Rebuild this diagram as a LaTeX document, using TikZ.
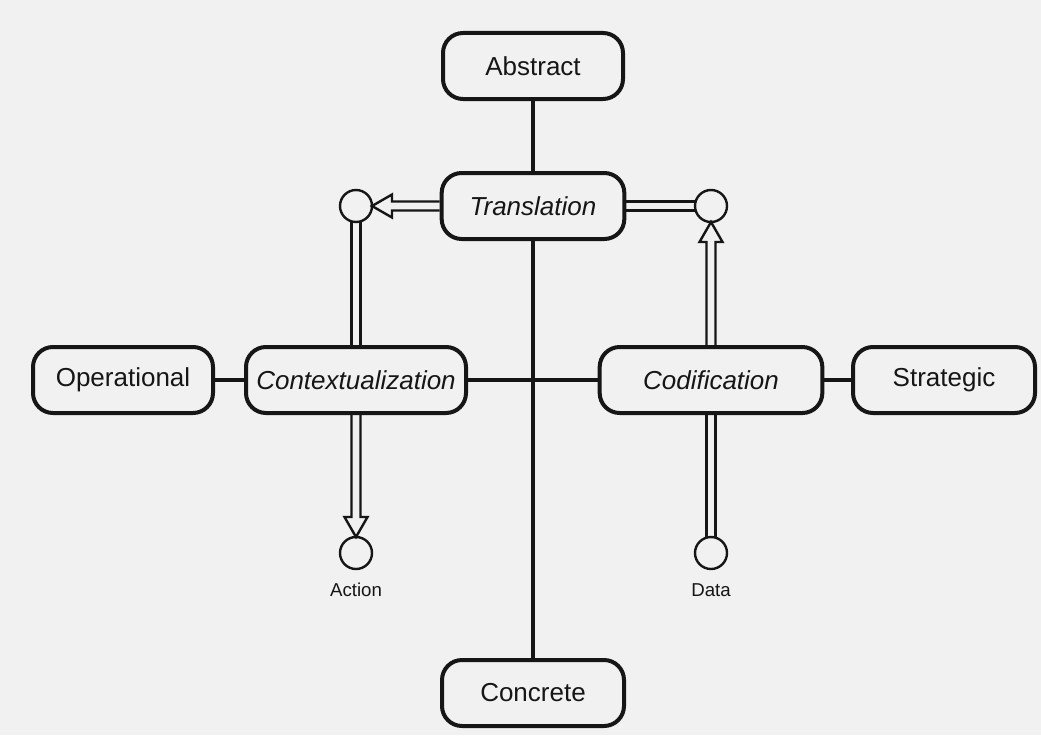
\documentclass[tikz,border=0pt]{standalone}
\usepackage{fontspec}
\setmainfont{Liberation Sans}
\usetikzlibrary{calc}
\definecolor{bg}{HTML}{F1F1F1}
\definecolor{ink}{HTML}{161616}
\begin{document}
\begin{tikzpicture}[x=0.75pt,y=-0.75pt,
  box/.style={draw=ink,line width=3pt,rounded corners=15pt,fill=bg,
    minimum height=49.5pt,inner sep=0pt,text=ink,
    font=\fontsize{19.5}{22}\selectfont},
  ibox/.style={box,font=\fontsize{19.5}{22}\selectfont\itshape},
  circ/.style={draw=ink,circle,line width=1.8pt,minimum size=24pt,inner sep=0pt,outer sep=0pt},
  lbl/.style={text=ink,inner sep=0pt,font=\fontsize{14}{16}\selectfont},
  conn/.style={draw=ink,line width=2.6pt},
  dbl/.style={draw=ink,line width=1.8pt,line join=miter}]
\fill[bg] (0,0) rectangle (1041,735);
\useasboundingbox (0,0) rectangle (1041,735);

\node[box,minimum width=135pt] (abs) at (533,66) {Abstract};
\node[ibox,minimum width=137pt] (tr) at (533,206) {Translation};
\node[box,minimum width=135pt] (op) at (123,380) {Operational};
\node[ibox,minimum width=165pt] (ctx) at (356,380) {Contextualization};
\node[ibox,minimum width=167pt] (cod) at (711,380) {Codification};
\node[box,minimum width=136.5pt] (st) at (944,380) {Strategic};
\node[box,minimum width=136.5pt] (con) at (533,693) {Concrete};

\node[circ] (cl) at (356,206) {};
\node[circ] (cr) at (711,206) {};
\node[circ] (ca) at (356,553) {};
\node[circ] (cd) at (711,553) {};
\node[lbl] (la) at (356,590) {Action};
\node[lbl] (ld) at (711,590) {Data};

% central axis
\draw[conn] (abs.south) -- (tr.north);
\draw[conn] (tr.south) -- (con.north);
% horizontal axis
\draw[conn] (op.east) -- (ctx.west);
\draw[conn] (ctx.east) -- (cod.west);
\draw[conn] (cod.east) -- (st.west);

% Translation -> left circle (block arrow)
\draw[dbl] ($(tr.west)+(0,-4.5)$) -- ($(cl.east)+(20,-4.5)$) -- ($(cl.east)+(20,-11.5)$)
  -- (cl.east) -- ($(cl.east)+(20,11.5)$) -- ($(cl.east)+(20,4.5)$) -- ($(tr.west)+(0,4.5)$);
% Translation -- right circle
\draw[dbl] ($(tr.east)+(0,-4.5)$) -- ($(cr.west)+(0,-4.5)$);
\draw[dbl] ($(tr.east)+(0,4.5)$) -- ($(cr.west)+(0,4.5)$);

% left circle -- Contextualization
\draw[dbl] ($(cl.south)+(-4.5,0)$) -- ($(ctx.north)+(-4.5,0)$);
\draw[dbl] ($(cl.south)+(4.5,0)$) -- ($(ctx.north)+(4.5,0)$);
% Contextualization -> Action (block arrow)
\draw[dbl] ($(ctx.south)+(-4.5,0)$) -- ($(ca.north)+(-4.5,-20)$) -- ($(ca.north)+(-11.5,-20)$)
  -- (ca.north) -- ($(ca.north)+(11.5,-20)$) -- ($(ca.north)+(4.5,-20)$) -- ($(ctx.south)+(4.5,0)$);

% Data -- Codification
\draw[dbl] ($(cd.north)+(-4.5,0)$) -- ($(cod.south)+(-4.5,0)$);
\draw[dbl] ($(cd.north)+(4.5,0)$) -- ($(cod.south)+(4.5,0)$);
% Codification -> right circle (block arrow)
\draw[dbl] ($(cod.north)+(-4.5,0)$) -- ($(cr.south)+(-4.5,20)$) -- ($(cr.south)+(-11.5,20)$)
  -- (cr.south) -- ($(cr.south)+(11.5,20)$) -- ($(cr.south)+(4.5,20)$) -- ($(cod.north)+(4.5,0)$);
\end{tikzpicture}
\end{document}
